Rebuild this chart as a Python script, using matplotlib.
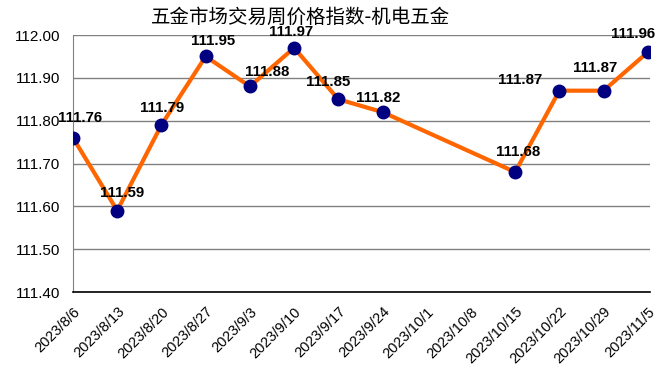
import numpy as np
import matplotlib.pyplot as plt

plt.rcParams['font.family'] = ['Liberation Sans', 'Noto Sans CJK SC', 'DejaVu Sans']

TITLE = "五金市场交易周价格指数-机电五金"
dates = ["2023/8/6", "2023/8/13", "2023/8/20", "2023/8/27", "2023/9/3", "2023/9/10",
         "2023/9/17", "2023/9/24", "2023/10/1", "2023/10/8", "2023/10/15",
         "2023/10/22", "2023/10/29", "2023/11/5"]
# no data for the holiday weeks
values = [111.76, 111.59, 111.79, 111.95, 111.88, 111.97, 111.85, 111.82,
          np.nan, np.nan, 111.68, 111.87, 111.87, 111.96]
y_ticks = [111.40, 111.50, 111.60, 111.70, 111.80, 111.90, 112.00]

# label offsets in pixels (dx, dy), as placed in the original sheet
LABEL_OFFSETS = [(7, 20), (5, 18), (1, 17), (7, 15), (17, 14), (-3, 16), (-10, 17),
                 (-4, 14), None, None, (3, 20), (-39, 11), (-8, 23), (-15, 18)]


def main():
    x = np.arange(len(dates))
    y = np.array(values)
    ok = ~np.isnan(y)

    fig = plt.figure(figsize=(6.59, 3.80), dpi=100)
    ax = fig.add_axes([73 / 659, 1 - 292 / 380, (650 - 73) / 659, (292 - 35) / 380])

    ax.plot(x[ok], y[ok], color="#FF6600", lw=3, zorder=2)
    ax.plot(x[ok], y[ok], ls='none', marker='o', ms=9, color="#000080", zorder=3)

    for i in np.where(ok)[0]:
        dx, dy = LABEL_OFFSETS[i]
        ax.annotate(f"{y[i]:.2f}", (x[i], y[i]), xytext=(dx, dy), textcoords="offset pixels",
                    ha='center', va='center', fontsize=10.8, fontweight='bold', zorder=4)

    ax.set_ylim(111.40, 112.00)
    ax.set_yticks(y_ticks)
    ax.set_yticklabels([f"{v:.2f}" for v in y_ticks], fontsize=11)
    ax.set_xlim(0, len(dates) - 1 + 0.05)
    ax.set_xticks(x)
    ax.set_xticklabels(dates, rotation=45, ha='right', rotation_mode='anchor', fontsize=10.5)
    ax.tick_params(axis='y', length=0, pad=9)
    ax.tick_params(axis='x', length=0, pad=9)

    ax.grid(axis='y', color="#808080", lw=1)
    ax.set_axisbelow(True)
    for s in ['top', 'right']:
        ax.spines[s].set_visible(False)
    ax.spines['left'].set_color("#808080")
    ax.spines['bottom'].set_color("black")
    ax.spines['bottom'].set_linewidth(1.2)

    fig.text(301 / 659, 1 - 17 / 380, TITLE, ha='center', va='center', fontsize=14,
             family=['Noto Sans CJK SC', 'DejaVu Sans'])

    plt.savefig("out.png", dpi=100)


if __name__ == "__main__":
    main()
